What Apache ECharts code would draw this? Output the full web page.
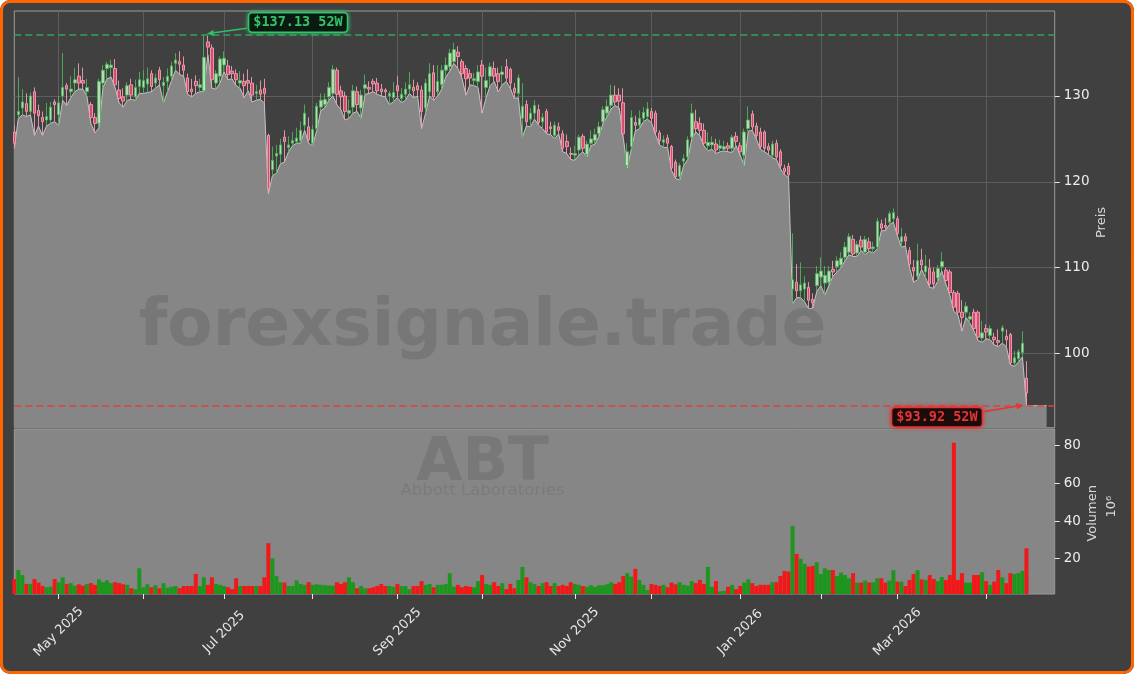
<!DOCTYPE html>
<html><head><meta charset="utf-8">
<script src="https://cdn.jsdelivr.net/npm/echarts@6/dist/echarts.min.js"></script>
<style>
html,body{margin:0;padding:0;background:#ffffff;}
#wrap{position:relative;width:1134px;height:674px;background:#404040;border-radius:10px;overflow:hidden;}
#chart{position:absolute;left:0;top:0;width:1134px;height:674px;}
#frame{position:absolute;left:0;top:0;width:1134px;height:674px;box-sizing:border-box;border:3px solid #ff6600;border-radius:10px;pointer-events:none;}
</style></head><body>
<div id="wrap"><div id="chart"></div><div id="frame"></div></div>
<script>
// ---- data ----
const startDate = '2025-04-15';
const holidays = ['2025-04-18','2025-05-26','2025-06-19','2025-07-04','2025-09-01','2025-11-27','2025-12-25','2026-01-01','2026-01-19','2026-02-16','2026-04-03'];
const extraSlots = 7;
const opens = [125.8,127.8,128.6,129.1,128.2,130.5,128.3,127.5,127.2,127.2,
129.3,127.8,130.0,131.2,130.5,131.5,132.3,131.8,130.5,129.0,
127.5,126.8,131.5,133.2,133.3,133.2,130.7,129.9,130.1,131.3,
129.9,131.1,131.0,131.4,132.6,131.5,133.0,131.2,131.7,132.3,
133.8,134.0,133.6,132.1,130.8,131.7,131.0,130.6,136.3,135.6,
131.5,132.3,133.6,133.5,132.9,132.6,131.5,131.7,131.8,131.5,
130.3,130.7,130.9,125.4,121.4,123.0,123.2,125.2,124.0,124.5,
124.7,124.8,126.6,126.4,124.5,126.2,128.7,129.0,129.9,130.3,
133.0,130.6,130.0,128.0,128.7,130.5,128.6,130.9,131.0,131.7,
131.5,130.8,130.7,130.0,129.8,131.2,129.7,130.2,130.8,131.0,
131.2,130.7,128.6,130.5,132.7,130.5,131.3,133.0,133.4,134.0,
135.1,134.0,133.2,132.6,131.8,131.7,133.6,131.0,132.3,133.2,
132.6,132.5,133.4,133.1,130.9,130.3,127.4,129.0,127.3,128.0,
128.4,127.0,128.2,126.4,125.4,126.4,125.6,124.7,123.3,123.1,
123.7,125.3,123.2,124.5,124.8,125.6,127.0,128.0,128.9,130.1,
130.1,129.2,121.9,124.1,126.9,126.6,127.4,127.6,128.2,128.0,
125.7,124.6,125.1,124.1,122.3,120.6,122.4,122.9,125.2,127.0,
126.8,126.0,124.2,124.3,124.4,123.9,123.8,124.2,123.9,125.3,
124.2,123.1,126.2,127.9,126.5,125.8,125.8,124.1,123.1,124.5,
123.5,121.6,121.8,107.5,108.3,107.3,107.5,107.7,106.3,107.9,
108.9,108.2,108.3,109.8,110.1,110.3,111.2,111.8,113.3,111.7,
113.2,111.8,113.0,112.2,112.4,115.1,114.9,115.3,115.7,115.7,
113.0,113.6,112.0,110.0,109.0,110.9,109.5,109.9,109.5,108.8,
110.1,109.7,109.5,107.1,107.0,104.8,104.8,104.0,104.8,104.8,
101.8,102.9,102.1,101.9,101.5,102.6,102.0,102.2,98.9,99.4,
100.1,97.1];
const closes = [124.5,128.2,129.3,128.2,130.0,128.0,127.7,127.0,127.6,128.7,
129.0,129.2,131.0,130.8,130.8,131.9,131.5,131.5,131.0,127.5,
126.8,131.7,133.0,133.7,133.6,131.3,129.7,129.4,131.2,130.1,
131.0,131.9,131.8,132.0,131.1,132.1,131.9,131.6,132.3,133.5,
134.2,133.7,133.0,130.5,130.5,131.2,131.3,134.5,135.7,131.9,
132.6,134.3,134.4,132.5,132.6,131.9,131.8,131.2,131.5,130.1,
130.5,130.2,130.3,119.2,122.5,123.3,124.3,124.7,124.3,124.8,
125.1,126.0,128.0,124.9,126.1,128.8,129.5,129.6,131.0,133.1,
130.2,129.9,128.2,128.3,130.6,129.0,130.1,131.3,130.8,131.4,
130.6,130.5,130.5,130.3,130.4,130.6,130.2,130.8,131.3,130.6,
130.7,128.2,131.5,132.6,129.9,131.7,133.0,133.6,135.0,135.4,
134.6,132.6,132.0,132.1,132.0,132.8,132.3,131.8,133.4,132.3,
131.7,132.8,132.1,131.5,130.4,132.1,128.8,127.0,128.0,128.9,
126.9,127.5,125.8,126.2,126.6,126.0,123.9,124.1,123.2,123.3,
125.2,123.9,124.4,125.0,125.5,126.4,128.4,128.8,130.1,129.3,
129.4,125.6,123.5,127.5,126.6,127.4,128.1,128.5,127.4,125.8,
124.8,124.9,124.5,121.6,120.6,121.9,122.7,124.9,128.0,126.2,
126.0,124.5,124.6,124.6,123.7,124.2,124.1,123.9,125.2,124.7,
123.5,125.8,127.2,126.4,125.4,124.1,123.9,123.7,124.4,122.9,
121.9,121.2,120.8,108.6,107.3,108.0,108.2,106.2,105.9,109.3,
109.6,109.1,109.6,109.5,110.8,111.1,112.4,113.6,111.6,112.7,
112.4,113.3,112.2,112.4,115.4,114.6,114.7,116.3,116.4,114.0,
113.6,113.1,110.4,109.6,110.8,110.3,110.2,108.1,108.1,109.9,
110.7,108.5,107.1,105.4,104.8,104.2,105.5,104.3,102.9,101.9,
102.4,102.5,102.9,101.6,101.3,103.0,101.6,98.9,99.5,100.2,
101.2,95.4];
const lows = [123.9,127.4,127.8,127.6,127.8,125.4,126.5,125.4,126.5,126.8,
127.0,126.6,129.5,128.9,129.8,130.5,130.8,130.8,130.0,126.8,
125.7,126.3,131.0,132.0,132.2,131.0,129.2,128.7,129.5,129.6,
129.5,130.3,130.3,130.4,130.5,130.9,131.3,129.2,130.5,131.8,
133.0,132.5,132.3,130.2,129.9,130.3,130.5,130.5,134.8,130.9,
130.8,131.5,132.8,131.9,132.0,131.2,130.9,129.8,130.6,129.3,
129.5,129.6,129.2,118.6,120.7,121.0,122.1,122.3,123.5,124.2,
124.5,124.5,126.0,124.5,124.2,126.0,128.3,128.6,129.5,130.0,
129.0,128.4,127.2,127.4,128.0,128.2,127.4,130.2,130.3,130.5,
130.2,130.0,129.9,129.0,129.3,129.8,129.2,129.5,130.3,129.8,
130.0,126.2,128.0,130.0,129.5,130.0,130.8,132.2,132.9,133.8,
133.2,132.1,130.1,131.3,131.2,131.0,128.0,129.8,131.2,131.7,
130.5,131.3,131.7,130.9,129.7,129.8,125.2,126.5,126.4,127.3,
126.6,126.2,125.6,125.5,125.0,125.6,123.5,123.3,122.6,122.5,
123.1,123.5,122.9,124.2,124.4,125.3,126.8,127.6,128.5,128.9,
128.6,125.2,121.6,123.8,125.9,126.2,127.0,127.3,126.9,125.5,
124.3,124.0,124.0,121.3,120.4,120.2,121.9,122.6,125.0,125.8,
125.4,124.2,123.6,123.8,123.3,123.5,123.6,123.5,123.4,124.2,
123.1,121.9,125.9,126.0,125.0,123.8,123.5,123.2,122.8,122.6,
121.5,120.8,120.5,105.8,106.5,106.5,106.0,105.2,105.3,107.2,
107.9,106.8,107.9,109.0,109.5,110.0,110.8,111.5,111.3,111.3,
112.0,111.5,111.9,111.7,112.2,114.3,114.3,115.0,115.3,113.7,
112.4,112.5,110.0,108.3,108.6,109.8,108.8,107.7,107.6,108.4,
109.6,108.1,106.8,104.9,104.5,102.6,104.2,103.5,102.6,101.5,
101.3,101.7,101.6,101.0,100.8,101.2,100.8,98.7,98.5,99.0,
99.6,93.92];
const highs = [126.6,132.2,130.8,130.3,130.4,131.0,129.0,128.2,129.2,129.3,
129.6,130.0,135.0,131.5,132.3,133.3,133.8,133.3,132.0,129.3,
128.0,132.0,133.6,134.0,134.2,134.3,131.8,130.9,131.6,132.0,
131.9,132.8,133.0,133.3,133.0,132.6,133.4,132.2,133.2,134.0,
135.0,135.2,134.6,132.6,132.0,132.4,132.0,137.13,137.0,136.0,
133.0,134.6,135.2,134.2,133.5,133.1,132.9,132.6,133.1,132.2,
131.3,131.8,132.0,125.6,124.1,124.3,125.0,126.0,125.3,125.8,
126.3,127.0,129.0,127.5,126.6,129.2,130.3,130.3,131.6,133.6,
133.3,131.2,130.5,129.6,131.3,131.1,130.7,132.5,131.7,132.0,
132.1,131.4,130.9,130.6,131.6,132.3,130.9,131.6,132.8,131.9,
131.6,131.2,132.0,133.8,133.6,133.6,133.6,134.5,135.5,136.2,
135.8,134.3,133.6,133.1,132.7,133.6,134.2,133.3,133.9,134.0,
133.3,133.5,134.3,133.3,131.5,132.5,131.5,129.5,128.6,129.5,
129.0,128.0,128.5,127.0,127.0,126.9,126.0,125.5,124.0,124.2,
125.5,125.6,124.8,126.0,126.2,127.0,128.8,129.6,131.3,131.2,
130.9,130.9,124.5,128.3,127.7,128.3,128.7,129.3,128.6,128.3,
126.0,125.4,125.5,124.3,122.6,122.2,123.2,125.3,129.1,128.4,
127.5,126.8,125.8,125.3,125.0,124.9,124.8,124.6,125.5,125.8,
124.6,126.2,128.8,128.3,126.9,126.3,126.0,124.5,124.8,124.9,
123.8,122.0,122.2,114.0,110.4,110.6,109.0,108.3,107.0,110.2,
111.2,110.2,110.2,110.8,111.3,111.8,113.0,114.0,113.8,113.1,
113.7,113.7,113.5,113.0,115.8,115.6,115.8,116.6,116.9,116.0,
114.6,114.0,112.4,110.9,112.8,112.2,111.5,111.0,110.0,110.3,
111.8,110.0,109.8,107.4,107.3,106.2,106.0,104.8,105.2,105.0,
103.8,103.4,103.3,102.4,102.8,103.3,102.8,102.4,100.3,100.5,
102.6,99.1];
// volume in millions
const volumes = [9.2,14.0,11.3,6.6,6.6,9.2,7.3,5.5,4.8,5.1,
9.2,7.5,10.1,6.6,7.0,5.7,6.4,5.7,6.6,7.0,
6.1,9.0,7.5,8.5,7.0,7.5,7.0,6.4,6.1,4.3,
3.8,14.9,4.8,6.4,4.8,5.9,4.3,7.0,4.6,5.1,
5.5,4.3,5.5,5.5,5.5,11.9,5.5,10.1,6.1,10.1,
6.6,6.1,5.5,4.8,3.8,9.6,5.5,5.5,5.5,5.5,
5.5,5.5,10.1,28.2,20.2,10.8,7.5,7.3,5.5,5.5,
8.5,6.6,6.1,7.5,6.1,6.4,6.1,5.9,5.7,5.7,
7.5,6.6,7.5,10.1,7.5,4.3,5.5,4.3,4.3,4.8,
5.5,6.6,5.5,5.5,5.1,6.6,5.5,5.5,3.8,5.5,
5.5,8.1,6.1,6.6,4.8,6.1,6.1,6.6,12.3,5.1,
6.1,4.8,5.5,5.1,4.8,8.1,11.3,6.6,6.1,7.5,
5.5,7.0,3.8,6.6,4.3,8.7,15.6,10.1,7.5,6.6,
5.5,7.0,7.5,5.5,7.0,5.5,6.1,5.5,7.5,6.6,
6.1,5.5,5.1,5.9,5.1,5.9,5.9,6.4,7.5,6.6,
7.5,10.8,12.3,10.5,14.6,8.7,6.1,3.4,6.6,6.1,
5.5,6.1,4.8,7.3,6.4,7.5,6.1,5.7,8.1,7.0,
8.7,6.6,15.6,5.1,8.1,2.6,2.9,5.1,6.1,3.8,
5.5,7.3,9.0,7.0,5.5,6.1,6.1,6.1,7.5,7.5,
10.8,13.5,13.2,37.4,22.5,19.9,17.3,15.8,16.2,18.1,
11.9,14.9,14.0,14.0,10.8,12.6,11.3,9.6,12.3,7.3,
7.3,8.4,7.3,7.5,9.6,9.6,7.3,8.4,13.9,7.8,
7.8,5.5,8.7,11.9,13.9,9.0,8.7,11.3,9.2,8.1,
10.3,8.7,11.3,81.6,8.7,12.3,7.3,7.3,11.3,11.3,
12.8,8.1,6.1,7.8,14.0,10.1,7.0,12.3,11.9,12.3,
13.5,25.5];
const priceTicks = [100, 110, 120, 130];
const volumeTicks = [20, 40, 60, 80];
const monthNames = ['Jan','Feb','Mar','Apr','May','Jun','Jul','Aug','Sep','Oct','Nov','Dec'];
const high52 = Math.max.apply(null, highs);
const low52 = Math.min.apply(null, lows);

// ---- build ----
function tradingDays(start, count, hol) {
  const out = []; const d = new Date(start + 'T00:00:00Z');
  while (out.length < count) {
    const wd = d.getUTCDay(); const s = d.toISOString().slice(0, 10);
    if (wd !== 0 && wd !== 6 && hol.indexOf(s) < 0) out.push(s);
    d.setUTCDate(d.getUTCDate() + 1);
  }
  return out;
}
const dates = tradingDays(startDate, opens.length + extraSlots, holidays);
const isMonthStart = (i) => i > 0 && dates[i].slice(0, 7) !== dates[i - 1].slice(0, 7);
const isLabelMonth = (i) => isMonthStart(i) && (parseInt(dates[i].slice(5, 7), 10) % 2 === 1);
const candleData = opens.map((o, i) => [o, closes[i], lows[i], highs[i]]);
const areaData = lows.concat([low52, low52, low52, low52, low52]);
const volData = volumes.map((v, i) => ({
  value: v,
  itemStyle: { color: closes[i] >= opens[i] ? '#1e961e' : '#f01818' }
}));

const FONT = 'DejaVu Sans';
const chart = echarts.init(document.getElementById('chart'), null, { renderer: 'canvas' });
const gridL = 14.3, gridR = 79.3;
chart.setOption({
  animation: false,
  backgroundColor: 'transparent',
  grid: [
    { left: gridL, right: gridR, top: 11, height: 416.7, show: true, backgroundColor: '#404040', borderColor: '#9b9b9b', borderWidth: 1 },
    { left: gridL, right: gridR, top: 429, height: 165, show: true, backgroundColor: '#868686', borderColor: '#9b9b9b', borderWidth: 1 }
  ],
  xAxis: [
    { type: 'category', gridIndex: 0, data: dates, boundaryGap: false,
      axisLine: { show: false }, axisTick: { show: false }, axisLabel: { show: false },
      splitLine: { show: true, interval: (i) => isMonthStart(i), lineStyle: { color: '#5d5d5d', width: 1 } } },
    { type: 'category', gridIndex: 1, data: dates, boundaryGap: false,
      axisLine: { show: false },
      axisTick: { show: true, interval: (i) => isMonthStart(i), length: 5, lineStyle: { color: '#e6e6e6', width: 1 } },
      axisLabel: { show: true, interval: (i) => isLabelMonth(i),
        formatter: (v) => monthNames[parseInt(v.slice(5, 7), 10) - 1] + ' ' + v.slice(0, 4),
        rotate: 45, align: 'center', verticalAlign: 'middle', margin: 38,
        color: '#e6e6e6', fontSize: 13, fontFamily: FONT },
      splitLine: { show: false } }
  ],
  yAxis: [
    { type: 'value', gridIndex: 0, position: 'right', min: 91.35, max: 139.9, scale: true,
      axisLine: { show: false },
      axisTick: { show: true, length: 5, customValues: priceTicks, lineStyle: { color: '#e6e6e6' } },
      axisLabel: { customValues: priceTicks, color: '#ececec', fontSize: 13.5, fontFamily: FONT, margin: 9 },
      splitLine: { show: true, lineStyle: { color: '#5d5d5d', width: 1 } } },
    { type: 'value', gridIndex: 1, position: 'right', min: 1.24, max: 88.85, scale: true,
      axisLine: { show: false },
      axisTick: { show: true, length: 5, customValues: volumeTicks, lineStyle: { color: '#e6e6e6' } },
      axisLabel: { customValues: volumeTicks, color: '#ececec', fontSize: 13.5, fontFamily: FONT, margin: 9 },
      splitLine: { show: false } }
  ],
  series: [
    { type: 'line', xAxisIndex: 0, yAxisIndex: 0, data: areaData, symbol: 'none', silent: true, z: 1,
      lineStyle: { color: '#c4c4c4', width: 1 },
      areaStyle: { color: '#868686', opacity: 1, origin: 'start' } },
    { type: 'candlestick', xAxisIndex: 0, yAxisIndex: 0, data: candleData, barWidth: 3, z: 3, silent: true,
      itemStyle: { color: 'rgba(200,232,200,0.9)', color0: 'rgba(222,78,112,0.95)', borderColor: 'rgba(80,178,92,0.9)', borderColor0: 'rgba(240,160,178,0.9)', borderWidth: 1 },
      markLine: { silent: true, symbol: ['none', 'none'], label: { show: false }, animation: false,
        data: [
          { yAxis: high52, lineStyle: { color: '#2fa35c', type: [7, 4], width: 1.6 } },
          { yAxis: low52, lineStyle: { color: '#e04040', type: [7, 4], width: 1.6 } }
        ] } },
    { type: 'bar', xAxisIndex: 1, yAxisIndex: 1, data: volData, barWidth: 4, z: 2, silent: true }
  ]
});

// ---- annotations anchored via the axes ----
const hiIdx = highs.indexOf(high52);
const loIdx = lows.indexOf(low52);
const pHi = chart.convertToPixel({ gridIndex: 0 }, [dates[hiIdx], high52]);
const pLo = chart.convertToPixel({ gridIndex: 0 }, [dates[loIdx], low52]);
function arrow(x1, y1, x2, y2, color) {
  const dx = x2 - x1, dy = y2 - y1, L = Math.sqrt(dx * dx + dy * dy);
  const ux = dx / L, uy = dy / L, hl = 7, hw = 3.2;
  const bx = x2 - ux * hl, by = y2 - uy * hl;
  return [
    { type: 'line', z: 50, shape: { x1: x1, y1: y1, x2: bx, y2: by }, style: { stroke: color, lineWidth: 1.6 } },
    { type: 'polygon', z: 50, shape: { points: [[x2, y2], [bx - uy * hw, by + ux * hw], [bx + uy * hw, by - ux * hw]] }, style: { fill: color } }
  ];
}
function tag(cx, cy, text, color, bg) {
  return { type: 'text', z: 51, x: cx, y: cy,
    style: { text: text, fill: color, font: 'bold 13.5px "DejaVu Sans Mono"',
      align: 'center', verticalAlign: 'middle', textAlign: 'center', textVerticalAlign: 'middle',
      backgroundColor: bg, borderColor: color, borderWidth: 1.5, borderRadius: 3, padding: [2, 4, 2, 4],
      shadowBlur: 4, shadowColor: color } };
}
const graphics = [
  { type: 'text', z: 40, x: 482.5, y: 328, silent: true,
    style: { text: 'forexsignale.trade', font: 'bold 66px "DejaVu Sans"', fill: 'rgba(60,60,60,0.19)', align: 'center', verticalAlign: 'middle', textAlign: 'center', textVerticalAlign: 'middle' } },
  { type: 'text', z: 40, x: 482.5, y: 464, silent: true,
    style: { text: 'ABT', font: 'bold 60px "DejaVu Sans"', fill: 'rgba(60,60,60,0.18)', align: 'center', verticalAlign: 'middle', textAlign: 'center', textVerticalAlign: 'middle' } },
  { type: 'text', z: 40, x: 482.5, y: 491, silent: true,
    style: { text: 'Abbott Laboratories', font: '16.5px "DejaVu Sans"', fill: 'rgba(60,60,60,0.14)', align: 'center', verticalAlign: 'middle', textAlign: 'center', textVerticalAlign: 'middle' } },
  { type: 'text', z: 40, x: 1101.5, y: 222.5, rotation: Math.PI / 2, silent: true,
    style: { text: 'Preis', font: '13px "DejaVu Sans"', fill: '#d8d8d8', align: 'center', verticalAlign: 'middle', textAlign: 'center', textVerticalAlign: 'middle' } },
  { type: 'text', z: 40, x: 1092.5, y: 513.3, rotation: Math.PI / 2, silent: true,
    style: { text: 'Volumen', font: '13px "DejaVu Sans"', fill: '#d8d8d8', align: 'center', verticalAlign: 'middle', textAlign: 'center', textVerticalAlign: 'middle' } },
  { type: 'text', z: 40, x: 1112, y: 506.7, rotation: Math.PI / 2, silent: true,
    style: { text: '10\u2076', font: '13px "DejaVu Sans"', fill: '#d8d8d8', align: 'center', verticalAlign: 'middle', textAlign: 'center', textVerticalAlign: 'middle' } }
]
  .concat(arrow(pHi[0] + 43, pHi[1] - 6.5, pHi[0] + 3, pHi[1] - 1, '#2fbf68'))
  .concat([tag(pHi[0] + 94.2, pHi[1] - 12.3, '$' + high52.toFixed(2) + ' 52W', '#33c46a', '#0b1a10')])
  .concat(arrow(pLo[0] - 43, pLo[1] + 6, pLo[0] - 3, pLo[1] - 0.5, '#e53535'))
  .concat([tag(pLo[0] - 89.5, pLo[1] + 11.5, '$' + low52.toFixed(2) + ' 52W', '#e53535', '#1c0b0b')]);
chart.setOption({ graphic: graphics });
</script>
</body></html>
